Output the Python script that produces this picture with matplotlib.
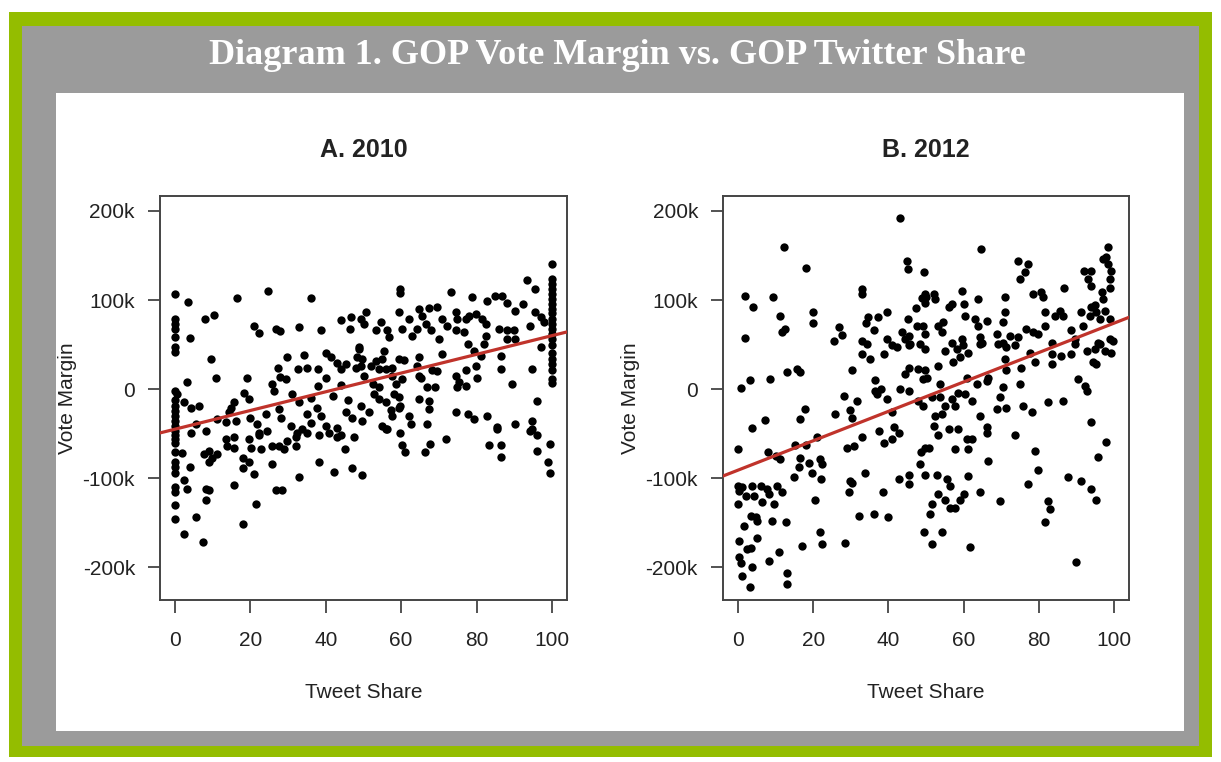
import matplotlib
matplotlib.use("Agg")
import matplotlib.pyplot as plt
from matplotlib.patches import Rectangle

plt.rcParams['font.family'] = ['Liberation Sans', 'DejaVu Sans']

# Panel A (2010): tweet share (%) and GOP vote margin (thousands)
share_2010 = [
    0, 3.3, 16.4, 24.7, 36, 0, 0, 0, 0, 0, 0, 4, 7.9, 10.2, 21, 22.3, 26.7, 27.8, 32.9, 38.8,
    44, 46.6, 49.3, 46.3, 9.6, 10.8, 3.1, 19.2, 29.8, 34.2, 27.3, 27.8, 29.4, 32.6, 35.1, 38,
    40, 40, 41.3, 42.9, 44, 45.3, 48, 48.4, 48.8, 25.8, 26.3, 18.3, 19.6, 0, 0.6, 0, 0, 0,
    0, 2.4, 4.2, 6.4, 5.5, 4.2, 8.1, 11.2, 14.3, 14.8, 13.4, 15.6, 16.1, 20, 21.8, 22.3, 24.5,
    27.6, 30.7, 32.4, 33.8, 35.1, 37.7, 38.6, 40, 40.8, 43, 43.9, 45.3, 47, 49.3,
    0, 0, 0, 1.9, 0, 0, 0, 4, 2.4, 0, 0, 3.1, 0, 0, 2.4, 5.5, 7.4,
    7.7, 9, 9, 11.2, 9.9, 8.1, 9, 8.1, 15.6, 17.9, 17.9, 17.9, 19.6, 21.4, 21, 25.8, 26.7, 28.5,
    32.9, 13.9, 15.6, 13.4, 15.6, 19.6, 20.1, 22.3, 22.7, 25.8, 27.6, 28.9, 29.8, 32, 32.2,
    35.1, 38.2, 43, 47.5, 38.2, 42.2, 45, 47, 49.5,
    55.9, 59.6, 60.3, 60.9, 66.2, 67.6, 71.8, 83.3, 86.4, 86.4, 85.5, 94.3, 96.1, 99.4, 96.1,
    99, 99.4,
    59.6, 59.6, 73.1, 78.9, 82.9, 85, 86.8, 88.1, 93.4, 95.6,
    100, 100, 100, 100, 100, 100, 100, 100, 100, 100, 100, 100, 100, 100, 100, 100, 100, 100,
    100, 100, 100,
    59.4, 62, 60.3, 64.7, 65.6, 67.4, 69.6, 66.5, 67.8, 70, 70.9, 72.2, 74.5, 74.9, 77.1, 78,
    79.8, 81.5, 82.4, 74.5, 76.7, 77.6, 82.4, 82, 85.9, 88.1, 89.9, 90.3, 88.1, 90.3, 92.2,
    94.3, 95.6, 97, 97.9, 97, 79.3, 81.1, 86.4, 86.4, 94.8, 89.5, 79.8, 80.2, 77.1, 74.5,
    74.9, 77.1, 70.9, 68.3, 69.5, 64.7, 64.3, 65.2, 64.7, 67.4, 67.4, 66.9, 69.1,
    74.5, 77.6, 79.3, 82.9, 85.5, 90.3, 94.8, 94.8, 96.1, 75.3,
    50.6, 50.1, 54.6, 53.2, 56.3, 56.8, 55.4, 55, 53.2, 51.9, 54.1, 55.9, 57.6, 59.4, 60.8,
    48.8, 49.7, 49.3, 50.1, 52.4, 54.1, 57.6, 58.5, 60.3, 58.1, 59.4, 59.8, 52.8, 54.1, 55.9,
    57.2, 59.4, 57.6, 49.7, 51.5, 55, 56.3, 62, 62.5, 66.9, 64.7, 64.3, 63,
    0, 0, 0, 0, 31, 36, 42, 44, 46, 38, 33, 28, 24, 36,
]
margin_2010 = [
    107, 98, 102, 110, 102, 79, 73, 67, 58, 47, 42, 57, 79, 83, 71, 63, 67, 65, 70, 66,
    78, 81, 79, 67, 34, 12, 8, 13, 36, 38, 24, 14, 11, 22, 24, 23,
    13, 41, 36, 29, 22, 28, 24, 36, 45, 6, -2, -4, -11, -2, -6, -19, -30, -41,
    -52, -15, -21, -19, -39, -49, -47, -34, -26, -21, -37, -15, -36, -32, -39, -49, -47,
    -22, -41, -49, -45, -28, -21, -30, -41, -49, -44, -51, -26, -32, -19,
    -56, -60, -71, -72, -82, -88, -94, -87, -102, -110, -116, -112, -130, -146, -163, -144, -172,
    -73, -69, -82, -73, -77, -112, -113, -125, -108, -151, -77, -89, -82, -129, -95, -84, -113, -113,
    -99, -64, -66, -56, -54, -56, -66, -51, -67, -64, -64, -67, -58, -54, -64,
    -49, -51, -54, -54, -82, -93, -67, -89, -97,
    -45, -49, -63, -71, -71, -62, -56, -63, -63, -76, -45, -47, -52, -62, -70,
    -82, -94,
    112, 108, 109, 103, 99, 104, 104, 97, 122, 112,
    140, 124, 118, 112, 107, 101, 96, 90, 85, 79, 73, 68, 62, 56, 49, 41, 34, 28,
    21, 11, 7,
    87, 79, 67, 90, 82, 91, 92, 73, 66, 56, 79, 71, 87, 79, 79, 82,
    84, 79, 73, 66, 64, 51, 60, 51, 67, 66, 66, 56, 56, 88, 96,
    71, 86, 81, 75, 47, 43, 37, 37, 22, 23, 6, 26, 13, 21, 15,
    2, 4, 39, 21, 20, 36, 26, 13, -11, -13, -22, 2, 2,
    -26, -28, -34, -30, -43, -39, -36, -45, -13, 8,
    86, 73, 75, 66, 66, 58, 43, 34, 32, 26, 22, 22, 24, 34, 33,
    47, 34, 26, 15, 6, 2, 15, 6, 11, -6, -9, -19, -6, -11, -15,
    -24, -21, -30, -36, -26, -41, -45, -30, -39, -39, 15, 67, 60,
    -12, -25, -36, -47, -5, -10, -8, 5, -12, 3, -15, -32, -28, -38,
]

# Panel B (2012)
share_2012 = [
    43.2, 12.2, 18, 1.9, 4, 9.4, 11.1, 11.8, 12.4, 1.9, 19.9, 19.9, 26.8, 27.7, 25.5, 33, 33,
    34.6, 34.1, 36.3, 37.2, 39.6, 44.9, 45.2, 49.6, 48.9, 50, 47.3, 45.2, 47.6, 33, 34.3, 39.6,
    40.9, 43.6, 45.4, 45.8, 48.5, 49.8,
    64.6, 74.5, 77.2, 76.3, 75, 98.4, 98, 97.1, 98.4, 99.1, 98.9, 98.9, 92, 94, 93.1, 94, 86.7,
    78.5, 80.7, 81.2, 96.7, 97.1, 59.5, 60, 63.9, 71, 71, 70.6, 49.8, 52, 52.4, 49.8, 56, 56.8,
    60.4, 63, 63.9, 66.1, 54.6, 53.3, 54.2, 49.3, 56.8, 59.5, 64.4, 64.8, 68.8, 70.6, 72.3, 74.5,
    76.7, 78.5, 79.8, 81.6, 81.6, 84.3, 85.6, 86.5, 83.4, 88.7, 89.6, 91.3, 91.8, 93.6, 94, 94.9,
    95.3, 97.5, 96.2, 98.9, 95.8, 98.9,
    0.7, 3.1, 8.4, 13.1, 15.7, 16.6, 33, 35.2, 38.7, 42.3, 44.5, 45.4,
    30.3, 36.5, 36.5, 37.9, 37, 39.6, 43.2, 45.4, 44.5, 45.4, 48, 49.3,
    28.1, 31.6, 29.9, 30.3, 25.9, 17.8, 16.4, 15.1, 18, 21, 7.2, 3.6, 0, 8, 10, 11.2, 16.6,
    16.2, 19, 19.7, 21.9, 22.4, 22.2, 14.9, 20.6, 29, 30.8, 33, 37.4, 38.7, 40.9, 41.4, 42.7,
    40.9, 48, 49.3, 48.7, 48.5, 49.8, 49.8, 33.9, 29.9, 29.4, 30.3, 38.5, 42.7, 45.4, 45.4,
    32.1, 36.1, 39.9, 28.4, 21.9, 22.4, 17.1, 49.5,
    0, 0.3, 1.1, 0, 2, 3.8, 4.2, 6.4, 6, 7.8, 8.2, 9.5, 10.4, 11.8, 1.6, 3.4, 4.7, 5.1, 9.1,
    12.7, 0.2, 3.4, 2.5, 5.1, 3.8, 0.2, 0.7, 1.1, 8.2, 10.9, 13.1, 13.1, 3.1,
    55.1, 58.2, 59.9, 61.3, 59.1, 57.3, 64.4, 69.2, 71.4, 73.7, 71, 71.4, 75.4, 77.6, 79, 83.4,
    83.4, 86, 88.7, 89.6, 92.7, 94.9, 96.2, 97.5, 99.3, 99.7, 94.4, 95.3, 49.8,
    49.8, 50.2, 53.3, 53.8, 51.5, 53.8, 55.1, 56.8, 57.8, 58.6, 60.8, 60.4, 62.2, 63.5, 66.1,
    66.6, 70.6, 69.7, 68.8, 71.4, 75, 75.9, 78.1, 82.5, 86.5, 90.5, 92.2, 92.7,
    52.4, 52, 54.2, 53.3, 56, 58.6, 57.8, 60.8, 62.2, 61.3, 64.4, 66.1, 66.1, 73.7,
    50.7, 52.9, 55.5, 56.4, 61.3, 53.3, 55.1, 56.4, 57.8, 59.1, 60, 64.4, 69.7, 51.5, 51.1,
    54.2, 51.5, 61.7, 66.6,
    79, 79.8, 77.2, 82.5, 82.9, 81.6, 87.8, 91.3, 94, 95.3, 94, 98, 95.8, 90,
]
margin_2012 = [
    192, 159, 136, 104, 92, 103, 82, 64, 68, 57, 86, 74, 70, 61, 54, 112, 107,
    81, 74, 66, 81, 86, 144, 135, 132, 102, 103, 91, 79, 71, 54, 51, 56,
    49, 64, 60, 51, 51, 62,
    157, 144, 140, 131, 124, 160, 148, 146, 140, 133, 124, 114, 133, 133, 124, 116, 114,
    107, 109, 103, 109, 101, 110, 96, 101, 103, 86, 75, 107, 107, 101, 97, 92, 96,
    82, 79, 71, 77, 75, 71, 64, 71, 52, 56, 58, 52, 62, 52, 60, 58,
    67, 64, 62, 71, 86, 82, 88, 82, 52, 66, 56, 86, 71, 82, 92, 94,
    86, 88, 79, 79, 52, 56,
    1, 10, 11, 19, 23, 19, 39, 34, 39, 47, 56, 49,
    21, 10, -2, 0, -6, -11, 0, -2, 17, 24, 22, 11,
    -8, -13, -24, -32, -28, -22, -34, -63, -63, -54, -35, -44, -67, -71, -75, -78, -77,
    -88, -83, -94, -79, -84, -101, -99, -124, -66, -64, -54, -47, -60, -56, -43, -49,
    -26, -13, -19, -71, -84, -96, -66, -94, -103, -116, -105, -115, -101, -96, -107,
    -143, -140, -144, -173, -161, -174, -176, -161,
    -109, -114, -110, -129, -120, -109, -120, -127, -109, -112, -118, -129, -109, -116, -154,
    -142, -144, -148, -148, -149, -170, -178, -180, -167, -200, -189, -195, -210, -193, -183,
    -206, -219, -222,
    43, 45, 49, 41, 36, 30, 51, 51, 47, 49, 34, 21, 24, 41, 30, 39,
    28, 37, 39, 51, 43, 45, 51, 43, 41, 54, 30, 28, 45,
    21, 13, 26, 6, -9, -9, -19, -11, -19, -4, 13, -6, -13, 6, 9,
    13, 2, -9, -22, -21, 6, -19, -26, -15, -13, 11, 4, -2,
    -30, -41, -28, -52, -45, -45, -67, -56, -56, -67, -30, -43, -49, -51,
    -66, -96, -101, -109, -98, -118, -124, -133, -133, -124, -118, -115, -126, -129, -140,
    -161, -174, -177, -81,
    -69, -91, -107, -126, -135, -149, -99, -103, -112, -124, -37, -59, -76, -194,
]

# fitted regression lines (intercept, slope), in thousands
fit_2010 = (-45, 1.05)
fit_2012 = (-91, 1.65)

panel_titles = ["A. 2010", "B. 2012"]
x_ticks = [0, 20, 40, 60, 80, 100]
y_ticks = [-200, -100, 0, 100, 200]
y_tick_labels = ["-200k", "-100k", "0", "100k", "200k"]

W, H = 1221, 762
fig = plt.figure(figsize=(W / 100, H / 100), dpi=100, facecolor="white")


def px_box(x0, y0, x1, y1):
    # pixel box (top-left origin) -> figure fraction rect
    return (x0 / W, 1 - y1 / H, (x1 - x0) / W, (y1 - y0) / H)


def add_bg(box, color):
    x, y, w, h = px_box(*box)
    fig.add_artist(Rectangle((x, y), w, h, transform=fig.transFigure,
                             facecolor=color, edgecolor="none", zorder=-10))


add_bg((9, 12, 1212, 757), "#94bd00")
add_bg((22, 26, 1199, 746), "#9b9b9b")
add_bg((56, 93, 1184, 731), "white")

fig.text(617 / W, 1 - 56 / H, "Diagram 1. GOP Vote Margin vs. GOP Twitter Share",
         family=["Liberation Serif", "DejaVu Serif"], weight="bold", fontsize=26,
         color="white", ha="center", va="center")

panels = [
    (px_box(160, 196, 567, 600), share_2010, margin_2010, fit_2010, panel_titles[0]),
    (px_box(723, 196, 1129, 600), share_2012, margin_2012, fit_2012, panel_titles[1]),
]

for rect, xs, ys, fit, title in panels:
    ax = fig.add_axes(rect)
    ax.scatter(xs, ys, s=36, color="black", linewidths=0, zorder=2)
    b0, b1 = fit
    ax.plot([-4, 104], [b0 + b1 * -4, b0 + b1 * 104], color="#c0332b", lw=2.3, zorder=3)
    ax.set_xlim(-4, 104)
    ax.set_ylim(-236.8, 216.8)
    ax.set_xticks(x_ticks)
    ax.set_yticks(y_ticks)
    ax.set_yticklabels(y_tick_labels)
    ax.tick_params(direction="out", length=9, width=1.3, color="#444444",
                   labelsize=15, labelcolor="#222222")
    ax.tick_params(axis="x", pad=13)
    ax.tick_params(axis="y", pad=9)
    for sp in ax.spines.values():
        sp.set_color("#444444")
        sp.set_linewidth(1.4)
    ax.set_xlabel("Tweet Share", fontsize=15, color="#222222", labelpad=24)
    ax.set_ylabel("Vote Margin", fontsize=15, color="#222222", labelpad=4)
    ax.set_title(title, fontsize=18, weight="bold", color="#222222", pad=28)

fig.savefig("out.png", dpi=100, facecolor=fig.get_facecolor())
